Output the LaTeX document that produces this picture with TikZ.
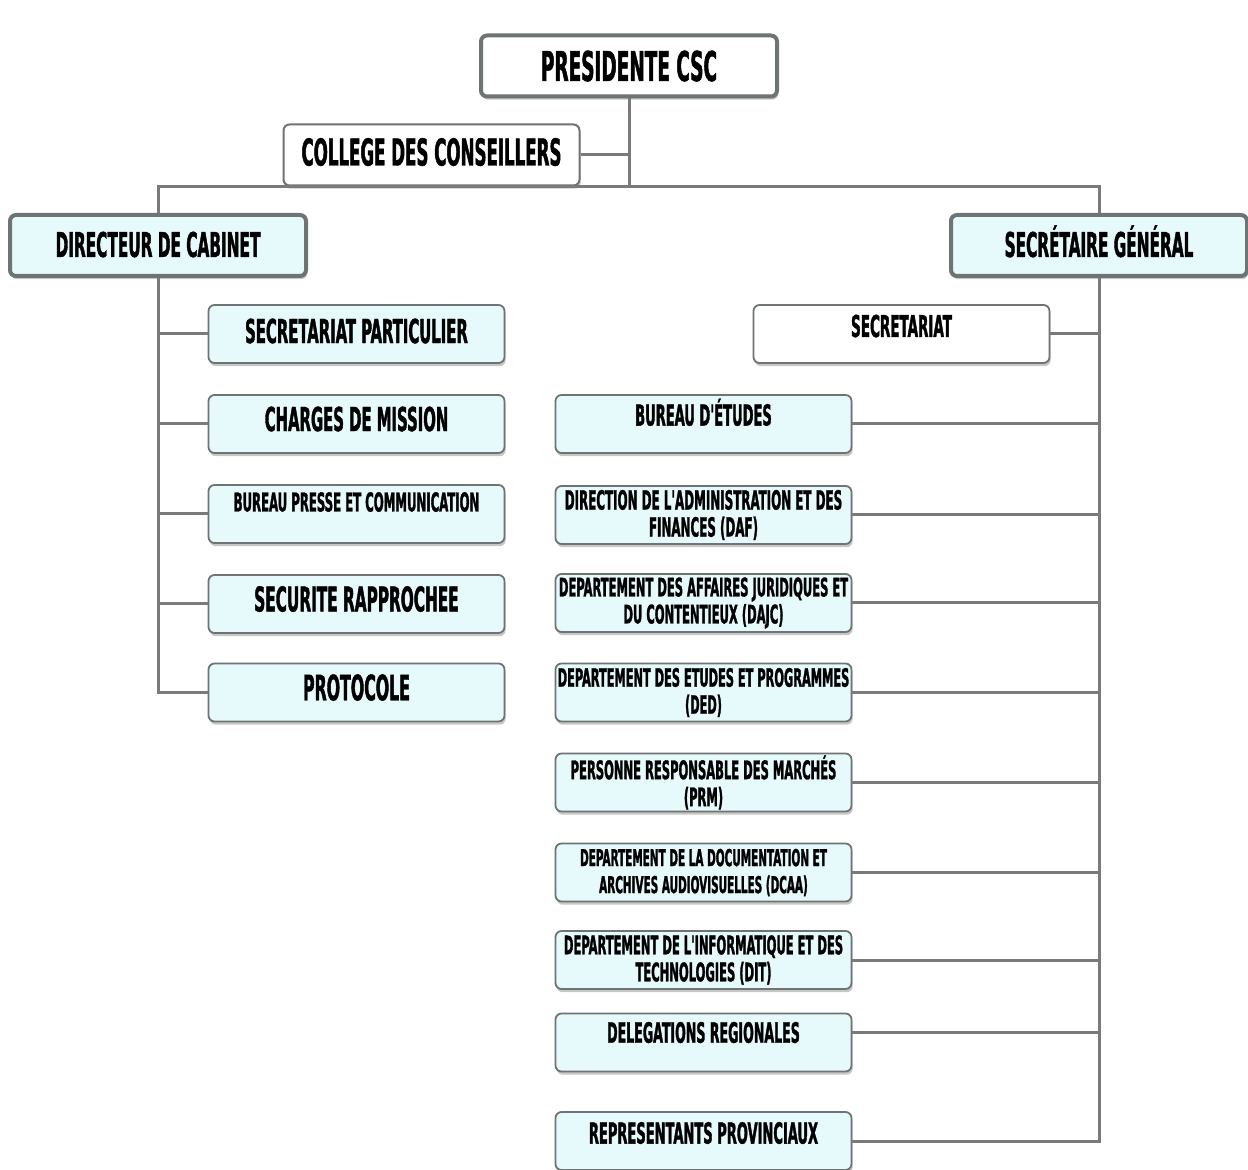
\documentclass[tikz,border=0pt]{standalone}
\usepackage{fontspec}
\newfontfamily\boxfont{DejaVu Sans Condensed}[FakeStretch=0.5, BoldFeatures={FakeBold=1.2}]
\usetikzlibrary{shadows}
\definecolor{bordergray}{HTML}{6E7373}
\definecolor{linegray}{HTML}{7A7A7A}
\definecolor{cyanfill}{HTML}{E6FAFC}
\tikzset{
  base/.style={rounded corners=3pt, align=center, inner sep=0pt,
    minimum width=148pt, font=\boxfont\bfseries,
    drop shadow={shadow xshift=0.6pt, shadow yshift=-1.6pt, fill=black, opacity=0.22}},
  topbox/.style={base, draw=bordergray, line width=2pt, fill=white, minimum height=30.5pt},
  headbox/.style={base, draw=bordergray, line width=2pt, fill=cyanfill, minimum height=30.5pt},
  childbox/.style={base, draw=bordergray, line width=0.9pt, fill=cyanfill, minimum height=29pt},
  whitebox/.style={base, draw=bordergray, line width=0.9pt, fill=white, minimum height=29pt},
  up/.style={text depth=#1pt},
  conn/.style={draw=linegray, line width=1.5pt},
  fs/.style={font=\boxfont\bfseries\fontsize{#1}{#1}\selectfont, text height=0.73*#1},
  two/.style={font=\boxfont\bfseries\fontsize{#1}{13.5pt}\selectfont},
}
\begin{document}
\begin{tikzpicture}[x=0.5pt,y=-0.5pt]
\useasboundingbox (0,0) rectangle (1248,1170);
\fill[white] (0,0) rectangle (1248,1170);

% top level
\node[topbox, fs=20.5pt, up=0] (pres) at (629,66) {PRESIDENTE CSC};
\node[topbox, line width=1pt, fs=18.5pt, up=3] (coll) at (431.5,155) {COLLEGE DES CONSEILLERS};
\node[headbox, fs=17pt, up=1] (dir) at (158,245.5) {DIRECTEUR DE CABINET};
\node[headbox, fs=17pt, up=1] (sg) at (1099,245.5) {SECRÉTAIRE GÉNÉRAL};

% left children
\node[childbox, fs=16.5pt, up=3] (l1) at (356.5,334) {SECRETARIAT PARTICULIER};
\node[childbox, fs=16.5pt, up=5] (l2) at (356.5,424) {CHARGES DE MISSION};
\node[childbox, fs=13pt, up=12] (l3) at (356.5,514) {BUREAU PRESSE ET COMMUNICATION};
\node[childbox, fs=17pt, up=5] (l4) at (356.5,604) {SECURITE RAPPROCHEE};
\node[childbox, fs=17.5pt, up=5] (l5) at (356.5,692.5) {PROTOCOLE};

% right children
\node[whitebox, fs=15pt, up=8] (sec) at (901.5,334) {SECRETARIAT};
\node[childbox, fs=14.5pt, up=9] (r1) at (703.5,424) {BUREAU D'ÉTUDES};
\node[childbox, two=13.2pt] (r2) at (703.5,515) {DIRECTION DE L'ADMINISTRATION ET DES\\FINANCES (DAF)};
\node[childbox, two=12.8pt] (r3) at (703.5,603) {DEPARTEMENT DES AFFAIRES JURIDIQUES ET\\DU CONTENTIEUX (DAJC)};
\node[childbox, two=12.6pt] (r4) at (703.5,692.5) {DEPARTEMENT DES ETUDES ET PROGRAMMES\\(DED)};
\node[childbox, two=12.8pt] (r5) at (703.5,782.5) {PERSONNE RESPONSABLE DES MARCHÉS\\(PRM)};
\node[childbox, two=11.6pt] (r6) at (703.5,872.5) {DEPARTEMENT DE LA DOCUMENTATION ET\\ARCHIVES AUDIOVISUELLES (DCAA)};
\node[childbox, two=12.8pt] (r7) at (703.5,960) {DEPARTEMENT DE L'INFORMATIQUE ET DES\\TECHNOLOGIES (DIT)};
\node[childbox, fs=14pt, up=10] (r8) at (703.5,1042.5) {DELEGATIONS REGIONALES};
\node[childbox, fs=14.5pt, up=8] (r9) at (703.5,1141) {REPRESENTANTS PROVINCIAUX};

\coordinate (hub) at (629,187);

% connectors
\draw[conn] (pres.south) -- (hub);
\draw[conn] (coll.east) -- (coll.east -| hub);
\draw[conn] (dir.north) -- (dir.north |- hub) -- (sg.north |- hub) -- (sg.north);
\draw[conn] (dir.south) -- (dir.south |- l5.west) -- (l5.west);
\foreach \n in {l1,l2,l3,l4} \draw[conn] (\n.west) -- (\n.west -| dir.south);
\draw[conn] (sg.south) -- (sg.south |- r9.east) -- (r9.east);
\foreach \n in {sec,r1,r2,r3,r4,r5,r6,r7} \draw[conn] (\n.east) -- (\n.east -| sg.south);
\draw[conn] ([yshift=5pt]r8.east) -- ([yshift=5pt]r8.east -| sg.south);
\end{tikzpicture}
\end{document}
